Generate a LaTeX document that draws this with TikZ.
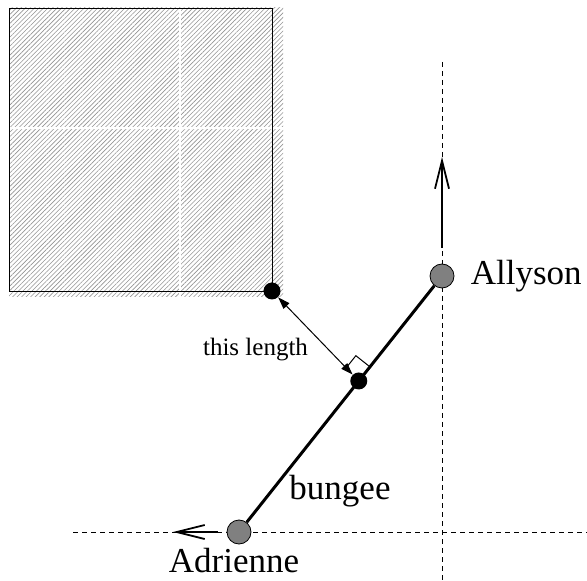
\documentclass[tikz,border=0pt]{standalone}
\usepackage{fontspec}
\setmainfont{Liberation Serif}
\usetikzlibrary{arrows.meta, calc, positioning, patterns.meta}

\begin{document}
\begin{tikzpicture}[x=0.5pt, y=-0.5pt,
  big/.style={font=\fontsize{17.5}{20}\selectfont, inner sep=0pt},
  small/.style={font=\fontsize{12.5}{15}\selectfont, inner sep=0pt},
  runner/.style={circle, draw, fill=gray, line width=0.4pt, minimum size=12pt, inner sep=0pt},
  dot/.style={circle, fill=black, minimum size=8.5pt, inner sep=0pt},
  guide/.style={dash pattern=on 2.5pt off 2pt, line width=0.4pt},
  heading/.style={-{Straight Barb[length=14pt, width=7pt]}, line width=0.9pt}]

\useasboundingbox (0,0) rectangle (587,581);

% Hatched block and its corner
\fill[pattern={Lines[angle=45, distance=1.6pt, line width=0.3pt]}, pattern color=gray!85] (9,8) rectangle (283,297);
\draw[white, line width=0.6pt] (180,8) -- (180,297) (9,128) -- (283,128);
\draw[line width=0.5pt] (9,9) rectangle (272,292);

% Guide lines
\coordinate (vtop) at (442,62);
\coordinate (vbot) at (442,581);
\coordinate (hleft) at (73,532);
\coordinate (hright) at (587,532);
\draw[guide] (vtop) -- (vbot);
\draw[guide] (hleft) -- (hright);

% Runners
\node[runner] (ally) at (442,276) {};
\node[runner] (adr) at (239,532) {};
\node[big, right=8pt of ally] (allylbl) {Allyson};
\node[big] (adrlbl) at (234,561) {Adrienne};

% Headings
\coordinate (allyhead) at (442,157);
\coordinate (adrhead) at (173,532);
\draw[heading, shorten <=8pt] (ally) -- (allyhead);
\draw[heading, shorten <=4.5pt] (adr) -- (adrhead);

% Bungee
\draw[line width=1.5pt] (adr) -- (ally);
\node[big] (bungeelbl) at (340,491) {bungee};

% Right angle at the nearest point
\coordinate (mid) at ($(adr)!0.59!(ally)$);
\coordinate (ra1) at ($(mid)!9pt!(ally)$);
\coordinate (ra3) at ($(mid)!9pt!90:(ally)$);
\coordinate (ra2) at ($(ra1)+(ra3)-(mid)$);
\draw[line width=0.5pt] (ra1) -- (ra2) -- (ra3);

\node[dot] (cdot) at (272,291) {};
\node[dot] (mdot) at (mid) {};

% Distance
\draw[{Triangle[length=6pt, width=4pt]}-{Triangle[length=6pt, width=4pt]}, line width=0.5pt] (cdot) -- (mdot);
\node[small] (lenlbl) at (255.5,350) {this length};

\end{tikzpicture}
\end{document}
